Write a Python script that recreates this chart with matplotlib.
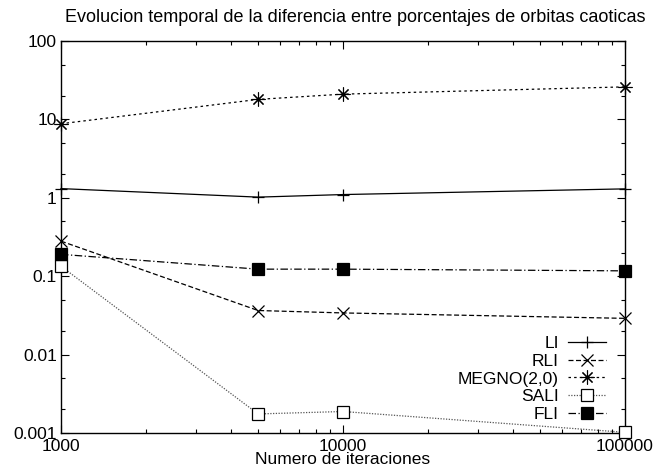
import matplotlib
matplotlib.use("Agg")
import matplotlib.pyplot as plt
from matplotlib.ticker import LogLocator, FixedLocator, NullFormatter

plt.rcParams["font.family"] = ["Liberation Sans", "DejaVu Sans"]
plt.rcParams["font.size"] = 12.5

# iteraciones y diferencia de porcentajes por indicador
iters = [1000, 5000, 10000, 100000]
li = [1.31, 1.02, 1.10, 1.30]
rli = [0.28, 0.0365, 0.034, 0.029]
megno = [8.8, 18.0, 21.0, 26.0]
sali = [0.134, 0.00175, 0.00188, 0.00102]
fli = [0.19, 0.123, 0.123, 0.117]

fig = plt.figure(figsize=(6.56, 4.74), dpi=100)
ax = fig.add_axes([61 / 656, 41 / 474, 564 / 656, 392 / 474])

ms = 9
common = dict(lw=0.9, mew=0.9, clip_on=False, zorder=3)
ax.plot(iters, li, color="black", ls="-", marker="+", ms=ms, label="LI", **common)
ax.plot(iters, rli, color="black", ls=(0, (4, 2)), marker="x", ms=ms - 1, label="RLI", **common)
ax.plot(iters, megno, color="black", ls=(0, (2, 2.5)), marker=(8, 2, 0), ms=ms + 1,
        mew=0.8, label="MEGNO(2,0)", **{k: v for k, v in common.items() if k != "mew"})
ax.plot(iters, sali, color="#555555", ls=(0, (1, 1.2)), marker="s", ms=ms - 1,
        mfc="white", mec="black", label="SALI", **common)
ax.plot(iters, fli, color="black", ls=(0, (6, 2, 1, 2)), marker="s", ms=ms - 1,
        mfc="black", mec="black", label="FLI", **common)

ax.set_xscale("log")
ax.set_yscale("log")
ax.set_xlim(1000, 100000)
ax.set_ylim(0.001, 100)

ax.xaxis.set_major_locator(FixedLocator([1000, 10000, 100000]))
ax.set_xticklabels(["1000", "10000", "100000"])
ax.xaxis.set_minor_locator(LogLocator(base=10, subs=range(2, 10)))
ax.xaxis.set_minor_formatter(NullFormatter())

ax.yaxis.set_major_locator(FixedLocator([0.001, 0.01, 0.1, 1, 10, 100]))
ax.set_yticklabels(["0.001", "0.01", "0.1", "1", "10", "100"])
ax.yaxis.set_minor_locator(LogLocator(base=10, subs=(2, 5)))
ax.yaxis.set_minor_formatter(NullFormatter())

ax.tick_params(which="both", direction="in", top=True, right=True, width=0.8)
ax.tick_params(which="major", length=6)
ax.tick_params(which="minor", length=3)
ax.tick_params(axis="x", pad=4)
ax.tick_params(axis="y", pad=3)
for sp in ax.spines.values():
    sp.set_linewidth(1.0)

fig.text(355 / 656, 1 - 18 / 474,
         "Evolucion temporal de la diferencia entre porcentajes de orbitas caoticas",
         ha="center", va="center", fontsize=13)
ax.set_xlabel("Numero de iteraciones", labelpad=-1)

ax.legend(loc="lower right", bbox_to_anchor=(0.966, 0.028), frameon=False, markerfirst=False,
          handlelength=2.2, handletextpad=0.5, labelspacing=0.15, borderaxespad=0,
          borderpad=0)

fig.savefig("out.png", dpi=100)
